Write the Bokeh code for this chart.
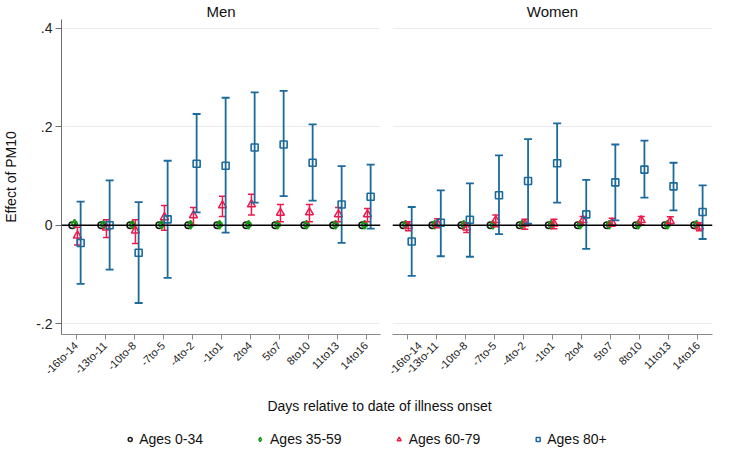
from math import pi
from bokeh.plotting import figure
from bokeh.models import (ColumnDataSource, FactorRange, Range1d, Span, Label, Legend,
                          LegendItem, FixedTicker, CustomJSTickFormatter)
from bokeh.transform import dodge
from bokeh.layouts import column, row
from bokeh.embed import file_html
from bokeh.resources import INLINE

FONT = "Liberation Sans"

categories = ["-16to-14", "-13to-11", "-10to-8", "-7to-5", "-4to-2", "-1to1",
              "2to4", "5to7", "8to10", "11to13", "14to16"]
y_ticks = [-0.2, 0.0, 0.2, 0.4]

# ---- Men ----
men_a0_34 = [0.0, 0.0, 0.0, 0.0, 0.0, 0.0, 0.0, 0.0, 0.0, 0.0, 0.0]
men_a35_59 = [0.003, 0.001, 0.001, 0.001, 0.001, 0.001, 0.001, 0.001, 0.001, 0.001, 0.001]
men_a35_59_lo = [0.000, -0.002, -0.002, -0.002, -0.002, -0.002, -0.002, -0.002, -0.002, -0.002, -0.002]
men_a35_59_hi = [0.006, 0.004, 0.004, 0.004, 0.004, 0.004, 0.004, 0.004, 0.004, 0.004, 0.004]
men_a60_79 = [-0.021, -0.005, -0.011, 0.016, 0.020, 0.040, 0.042, 0.025, 0.026, 0.022, 0.022]
men_a60_79_lo = [-0.040, -0.025, -0.037, -0.010, 0.000, 0.018, 0.021, 0.007, 0.007, 0.007, 0.007]
men_a60_79_hi = [-0.004, 0.011, 0.011, 0.040, 0.036, 0.059, 0.063, 0.042, 0.042, 0.036, 0.034]
men_a80 = [-0.036, 0.000, -0.056, 0.012, 0.125, 0.121, 0.158, 0.164, 0.127, 0.042, 0.058]
men_a80_lo = [-0.119, -0.090, -0.158, -0.107, 0.026, -0.015, 0.046, 0.059, 0.050, -0.036, -0.007]
men_a80_hi = [0.048, 0.091, 0.047, 0.131, 0.226, 0.259, 0.270, 0.273, 0.205, 0.120, 0.123]

# ---- Women ----
women_a0_34 = [0.0, 0.0, 0.0, 0.0, 0.0, 0.0, 0.0, 0.0, 0.0, 0.0, 0.0]
women_a35_59 = [0.001, 0.001, 0.001, 0.001, 0.001, 0.001, 0.001, 0.001, 0.001, 0.001, 0.001]
women_a35_59_lo = [-0.002, -0.002, -0.002, -0.002, -0.002, -0.002, -0.002, -0.002, -0.002, -0.002, -0.002]
women_a35_59_hi = [0.004, 0.004, 0.004, 0.004, 0.004, 0.004, 0.004, 0.004, 0.004, 0.004, 0.004]
women_a60_79 = [-0.002, 0.003, -0.005, 0.010, 0.003, 0.003, 0.010, 0.005, 0.010, 0.008, -0.003]
women_a60_79_lo = [-0.011, -0.005, -0.015, -0.003, -0.008, -0.007, 0.000, -0.002, 0.001, 0.000, -0.011]
women_a60_79_hi = [0.007, 0.013, 0.005, 0.021, 0.012, 0.012, 0.018, 0.014, 0.018, 0.017, 0.005]
women_a80 = [-0.033, 0.005, 0.011, 0.061, 0.090, 0.126, 0.022, 0.087, 0.113, 0.079, 0.027]
women_a80_lo = [-0.103, -0.063, -0.064, -0.018, 0.003, 0.046, -0.048, 0.010, 0.056, 0.030, -0.028]
women_a80_hi = [0.037, 0.071, 0.085, 0.142, 0.175, 0.207, 0.092, 0.164, 0.172, 0.127, 0.081]

series_names = ["Ages 0-34", "Ages 35-59", "Ages 60-79", "Ages 80+"]

BLACK = "#1a1a1a"
GREEN = "#159a15"
RED = "#f0184c"
BLUE = "#1b6a9c"

yr = Range1d(-0.222, 0.418)


def make_panel(title, a034, a3559, a3559_lo, a3559_hi, a6079, a6079_lo, a6079_hi,
               a80, a80_lo, a80_hi, width, bl, br, show_y):
    p = figure(width=width, height=383, x_range=FactorRange(*categories, range_padding=0),
               y_range=yr, output_backend="svg", toolbar_location=None,
               min_border_left=bl, min_border_right=br, min_border_top=0,
               min_border_bottom=40, title=title)
    p.outline_line_color = None
    p.title.align = "center"
    p.title.text_font = FONT
    p.title.text_font_size = "15px"
    p.title.text_font_style = "normal"
    p.title.text_color = "#111111"
    p.title.standoff = 0

    src = ColumnDataSource(dict(cat=categories, a034=a034,
                                a3559=a3559, a3559_lo=a3559_lo, a3559_hi=a3559_hi,
                                a6079=a6079, a6079_lo=a6079_lo, a6079_hi=a6079_hi,
                                a80=a80, a80_lo=a80_lo, a80_hi=a80_hi))

    p.add_layout(Span(location=0, dimension="width", line_color="black", line_width=1.6))

    # Ages 0-34
    p.scatter(x=dodge("cat", -0.13, range=p.x_range), y="a034", source=src,
              marker="circle", size=6.5, fill_color=None, line_color=BLACK, line_width=1.6)

    # Ages 35-59
    xg = dodge("cat", -0.05, range=p.x_range)
    p.segment(x0=xg, x1=xg, y0="a3559_lo", y1="a3559_hi", source=src,
              line_color=GREEN, line_width=1.4)
    p.scatter(x=xg, y="a3559_lo", source=src, marker="dash", size=6, line_color=GREEN, line_width=1.4)
    p.scatter(x=xg, y="a3559_hi", source=src, marker="dash", size=6, line_color=GREEN, line_width=1.4)
    p.scatter(x=xg, y="a3559", source=src, marker="diamond", size=8.5,
              fill_color=None, line_color=GREEN, line_width=1.6)

    # Ages 60-79
    xr = dodge("cat", 0.05, range=p.x_range)
    p.segment(x0=xr, x1=xr, y0="a6079_lo", y1="a6079_hi", source=src,
              line_color=RED, line_width=1.5)
    p.scatter(x=xr, y="a6079_lo", source=src, marker="dash", size=7, line_color=RED, line_width=1.5)
    p.scatter(x=xr, y="a6079_hi", source=src, marker="dash", size=7, line_color=RED, line_width=1.5)
    p.scatter(x=xr, y="a6079", source=src, marker="triangle", size=8,
              fill_color=None, line_color=RED, line_width=1.5)

    # Ages 80+
    xb = dodge("cat", 0.16, range=p.x_range)
    p.segment(x0=xb, x1=xb, y0="a80_lo", y1="a80_hi", source=src,
              line_color=BLUE, line_width=1.8)
    p.scatter(x=xb, y="a80_lo", source=src, marker="dash", size=8, line_color=BLUE, line_width=1.8)
    p.scatter(x=xb, y="a80_hi", source=src, marker="dash", size=8, line_color=BLUE, line_width=1.8)
    p.scatter(x=xb, y="a80", source=src, marker="square", size=7,
              fill_color=None, line_color=BLUE, line_width=1.6)

    p.xgrid.visible = False
    p.ygrid.ticker = FixedTicker(ticks=y_ticks)
    p.ygrid.grid_line_color = "#ebebeb"
    p.ygrid.grid_line_width = 1.2

    xa = p.xaxis[0]
    xa.major_label_orientation = pi / 4
    xa.major_label_text_font = FONT
    xa.major_label_text_font_size = "11px"
    xa.major_label_text_color = "#222222"
    xa.axis_line_color = "#8a8a8a"
    xa.major_tick_line_color = "#8a8a8a"
    xa.major_tick_out = 5
    xa.major_tick_in = 0
    xa.major_label_standoff = 4

    ya = p.yaxis[0]
    if show_y:
        ya.ticker = FixedTicker(ticks=y_ticks)
        ya.formatter = CustomJSTickFormatter(
            code="if (Math.abs(tick) < 1e-9) { return '0'; } return tick.toFixed(1).replace('0.', '.');")
        ya.minor_tick_line_color = None
        ya.major_label_text_font = FONT
        ya.major_label_text_font_size = "14px"
        ya.major_label_text_color = "#222222"
        ya.axis_line_color = "#6e6e6e"
        ya.major_tick_line_color = "#6e6e6e"
        ya.major_tick_out = 6
        ya.major_tick_in = 0
        ya.major_label_standoff = 3
        ya.axis_label = "Effect of PM10"
        ya.axis_label_text_font = FONT
        ya.axis_label_text_font_size = "14px"
        ya.axis_label_text_font_style = "normal"
        ya.axis_label_text_color = "#111111"
        ya.axis_label_standoff = 14
    else:
        ya.axis_line_color = None
        ya.major_tick_line_color = None
        ya.minor_tick_line_color = None
        ya.major_label_text_color = None
        ya.visible = False
    return p


p1 = make_panel("Men", men_a0_34, men_a35_59, men_a35_59_lo, men_a35_59_hi,
                men_a60_79, men_a60_79_lo, men_a60_79_hi, men_a80, men_a80_lo, men_a80_hi,
                width=386, bl=60, br=6, show_y=True)
p2 = make_panel("Women", women_a0_34, women_a35_59, women_a35_59_lo, women_a35_59_hi,
                women_a60_79, women_a60_79_lo, women_a60_79_hi, women_a80, women_a80_lo, women_a80_hi,
                width=329, bl=6, br=3, show_y=False)

# bottom strip: x-axis title and legend
p3 = figure(width=715, height=64, x_range=Range1d(16, 715), y_range=Range1d(0, 64),
            x_axis_type=None, y_axis_type=None,
            output_backend="svg", toolbar_location=None, min_border=0, min_border_left=16)
p3.grid.visible = False
p3.outline_line_color = None
p3.add_layout(Label(x=379, y=42, text="Days relative to date of illness onset",
                    text_align="center", text_baseline="middle", text_font=FONT,
                    text_font_size="14px", text_color="#111111"))

# legend-only renderers (their single point sits outside the visible range)
r0 = p3.scatter(x=[-100], y=[-100], marker="circle", size=6, fill_color=None, line_color=BLACK, line_width=1.5)
r1 = p3.scatter(x=[-100], y=[-100], marker="diamond", size=8, fill_color=None, line_color=GREEN, line_width=1.5)
r2 = p3.scatter(x=[-100], y=[-100], marker="triangle", size=7, fill_color=None, line_color=RED, line_width=1.5)
r3 = p3.scatter(x=[-100], y=[-100], marker="square", size=6, fill_color=None, line_color=BLUE, line_width=1.5)
legend = Legend(items=[LegendItem(label=n, renderers=[r], index=0) for n, r in zip(series_names, [r0, r1, r2, r3])],
                orientation="horizontal", location="bottom_center")
legend.label_text_font = FONT
legend.label_text_font_size = "14px"
legend.label_text_color = "#111111"
legend.glyph_width = 10
legend.glyph_height = 14
legend.label_standoff = 5
legend.spacing = 52
legend.padding = 0
legend.margin = 0
legend.border_line_color = None
legend.background_fill_alpha = 0
p3.add_layout(legend, "center")

layout = column(row(p1, p2, spacing=0), p3, spacing=0)

open("out.html", "w").write(file_html(layout, INLINE))
